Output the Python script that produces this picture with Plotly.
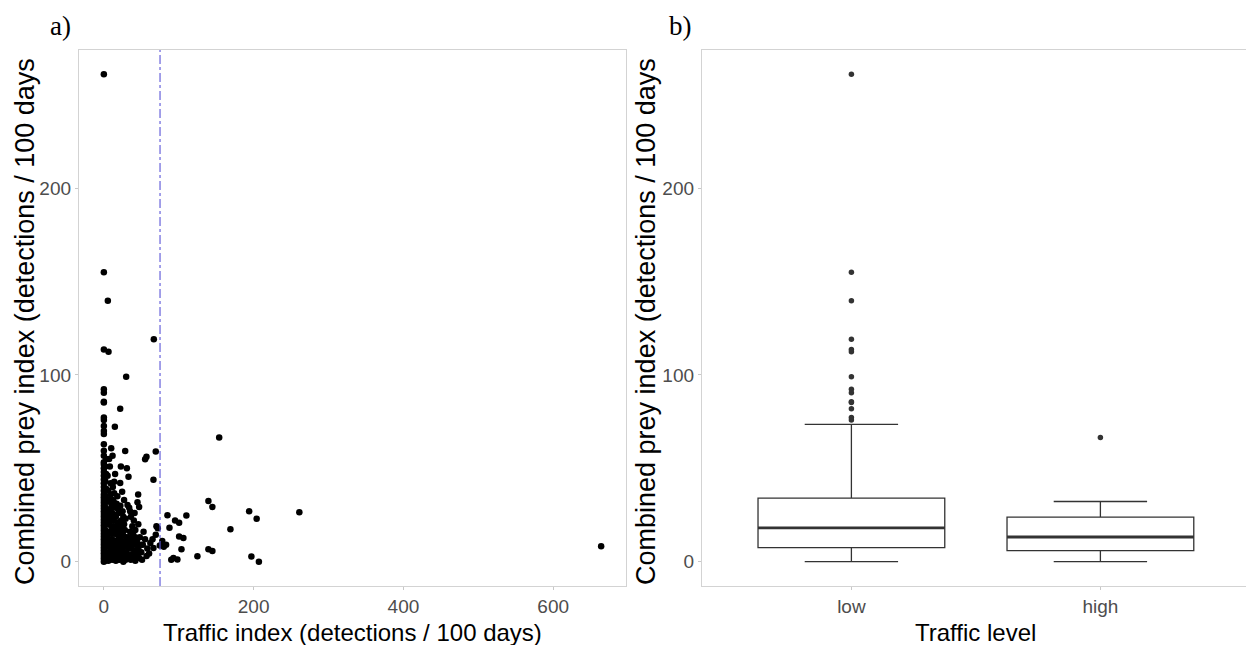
import plotly.graph_objects as go

# ---------------- data: panel a (scatter) ----------------
traffic_index = [
    # column at x ~ 0
    0, 0, 0, 0, 0, 0, 0, 0, 0, 0, 0, 0, 0, 0, 0, 0, 0, 0, 0, 0, 0, 0, 0, 0, 0,
    0, 0, 0, 0, 0, 0, 0, 0, 0, 0, 0, 0, 0, 0, 0, 0, 0, 0, 0, 0, 0, 0, 0, 0,
    # column at x ~ 2-6
    2, 3, 2, 3, 2, 3, 2, 3, 2, 3, 2, 3, 2, 3, 2, 3, 2, 3, 5.3, 6.2,
    # x 5-10
    5, 6, 7, 5, 8, 6, 9, 5, 7, 6, 9, 5, 8, 7, 9.8, 6, 8, 10, 9, 10, 8, 10, 9,
    # x 10-15
    11, 12, 13, 11, 14, 12, 13, 11, 14, 12, 13.8, 13, 13.8, 11.6, 14.7, 15, 12, 15, 14, 15,
    # x 15-20
    16, 17, 18, 16, 19, 17, 18, 16, 19, 17, 18, 20, 20, 19, 20,
    # x 20-25
    21, 22, 23, 21, 24, 22, 23, 21.8, 22.7, 21.8, 24.4, 25, 24, 25, 22,
    # x 25-35
    26, 28, 30, 27, 29, 31, 33, 26, 28, 30, 32, 34, 35, 27, 29, 31.6, 33.8, 35.1, 28.5, 30.7, 32.9, 29.8, 27,
    # x 35-50
    36, 38, 40, 42, 37, 39, 41, 43, 45, 44, 46, 38, 40, 42, 44.9, 47.1, 45.8, 48, 46, 36, 41,
    # x 50-75
    50, 52, 55, 58, 60.4, 62, 66.2, 69.3, 70.2, 72, 74.7, 55.1, 56.9, 66.2, 66.7, 69.3, 53, 57, 65,
    # extra fill of the dense cloud
    4, 6, 9, 12, 14, 16, 18, 20, 23, 25, 27, 29, 31, 33, 35, 37, 39, 42, 44, 47, 49, 51,
    24, 26, 20, 17, 13, 10, 8, 11, 6, 21,
    # high traffic
    84.9, 110.2, 95.1, 100.5, 87.6, 169, 100.5, 106.2, 83.1, 103.6, 92.9, 98.2, 124.9,
    139.6, 144.9, 197, 207, 204, 194, 139.6, 144.9, 261, 154, 664, 78, 80, 90,
]
prey_index = [
    0, 1.5, 3, 4.5, 6, 7.5, 9, 10.5, 12, 13.5, 15, 16.5, 18, 19.5, 21, 22.5, 24, 25.5, 27, 28.5, 30, 31.5, 33, 34.5, 36,
    38, 40, 42, 44, 46, 48, 50, 52, 53.2, 56.7, 59.4, 62.9, 68.3, 70.0, 72.7, 75.9, 77.2, 85.2, 85.7, 90.5, 92.3, 113.6, 155, 261,
    0.5, 2, 5, 8, 11, 14, 17, 20, 23, 26, 29, 32, 35, 39, 43, 47, 51, 55, 139.7, 112.4,
    2, 5, 9, 13, 16, 20, 24, 28, 33, 38, 42, 46, 51, 55, 60.8, 0.5, 3, 7, 11, 19, 27, 31, 36,
    1, 4, 8, 12, 15, 18, 22, 26, 29, 33, 36.6, 32.2, 42.8, 56.7, 72.2, 47, 40, 10, 2, 25,
    0.5, 4, 7, 11, 14, 17, 21, 24, 28, 31, 35, 2, 9, 19, 26,
    1, 5, 8, 12, 15, 18, 22, 42.1, 51.0, 81.9, 37.5, 3, 11, 27, 30,
    0, 2, 5, 8, 10, 4, 7, 14, 17, 13, 11, 3, 9, 20, 23, 30.4, 28.8, 27, 59.2, 50, 45.5, 99, 33,
    1, 4, 2, 0.5, 12, 15, 6, 9, 3, 11, 7, 19, 22, 17, 31.8, 29.2, 35.9, 13, 20, 24, 26,
    5, 9, 12, 7, 4.3, 10, 7.3, 14.4, 19, 17.9, 8.7, 54.9, 56.2, 43.9, 119.1, 59.0, 16, 3, 12,
    1, 3, 6, 9, 6, 3, 1, 5, 2, 7, 4, 1, 9, 13, 16, 7, 10, 13, 5, 2, 9, 1,
    19, 24, 15, 9, 19, 15, 22, 29, 25, 21,
    24.9, 24.7, 22.0, 20.8, 18.1, 17.4, 13.5, 12.6, 9.1, 6.6, 1.9, 1.2, 2.9,
    6.6, 5.7, 2.8, 0, 23, 27, 32.5, 29.3, 26.5, 66.5, 8.2, 11, 8, 1,
]
traffic_threshold = 75

x_ticks_a = [0, 200, 400, 600]
y_ticks = [0, 100, 200]

# ---------------- data: panel b (box plot) ----------------
levels = ["low", "high"]
level_pos = [1, 2]
box_q1 = [7.5, 5.9]
box_median = [18.1, 13.2]
box_q3 = [34.0, 23.8]
box_lower = [0, 0]
box_upper = [73.5, 32.2]
low_outliers = [261, 155, 139.7, 119.1, 113.6, 112.4, 99.0, 92.3, 90.5, 85.7, 85.2, 81.9, 77.2, 75.9]
high_outliers = [66.5]

# ---------------- layout helpers ----------------
W, H = 1246, 645
def fx(p):
    return p / W
def fy(p):
    return 1 - p / H

BOX_W = 0.75
BORDER = "#d3d3d3"
TICKC = "#c8c8c8"
TICKFONT = dict(family="Liberation Sans, Arial, sans-serif", size=19, color="#4d4d4d")
TITLEFONT = dict(family="Liberation Sans, Arial, sans-serif", size=24, color="black")

fig = go.Figure()

# panel a: scatter
fig.add_trace(go.Scatter(
    x=traffic_index, y=prey_index, mode="markers",
    marker=dict(color="black", size=6.5, line=dict(width=0)),
    xaxis="x", yaxis="y", showlegend=False, hoverinfo="skip"))

# panel b: boxes
fig.add_trace(go.Box(
    x=level_pos, q1=box_q1, median=box_median, q3=box_q3,
    lowerfence=box_lower, upperfence=box_upper, width=BOX_W,
    fillcolor="white", line=dict(color="#333333", width=1.3),
    boxpoints=False, xaxis="x2", yaxis="y2", showlegend=False, hoverinfo="skip"))

# thicker median lines
med_x, med_y = [], []
for p, m in zip(level_pos, box_median):
    med_x += [p - BOX_W / 2, p + BOX_W / 2, None]
    med_y += [m, m, None]
fig.add_trace(go.Scatter(
    x=med_x, y=med_y, mode="lines", line=dict(color="#333333", width=2.8),
    xaxis="x2", yaxis="y2", showlegend=False, hoverinfo="skip"))

# outliers
out_x = [level_pos[0]] * len(low_outliers) + [level_pos[1]] * len(high_outliers)
out_y = low_outliers + high_outliers
fig.add_trace(go.Scatter(
    x=out_x, y=out_y, mode="markers",
    marker=dict(color="#333333", size=5.5, line=dict(width=0)),
    xaxis="x2", yaxis="y2", showlegend=False, hoverinfo="skip"))

# threshold line
fig.add_shape(type="line", xref="x", yref="y domain",
              x0=traffic_threshold, x1=traffic_threshold, y0=0, y1=1,
              line=dict(color="#5a55d8", width=1.1, dash="dashdot"))

y_dom = [fy(586), fy(50)]
x_max = max(traffic_index)
y_max = max(max(prey_index), max(low_outliers))
x_range_a = [-0.05 * x_max, 1.05 * x_max]
y_range = [-0.05 * y_max, 1.05 * y_max]

common_axis = dict(showgrid=False, zeroline=False, showline=True, linecolor=BORDER,
                   linewidth=1.3, ticks="outside", ticklen=3, tickcolor=TICKC,
                   tickwidth=1, tickfont=TICKFONT, automargin=False)

fig.update_layout(
    width=W, height=H, margin=dict(l=0, r=0, t=0, b=0),
    paper_bgcolor="white", plot_bgcolor="white",
    xaxis=dict(domain=[fx(79), fx(626)], range=x_range_a, tickvals=x_ticks_a,
               anchor="y", mirror=True, **common_axis),
    yaxis=dict(domain=y_dom, range=y_range, tickvals=y_ticks,
               anchor="x", mirror=True, **common_axis),
    xaxis2=dict(domain=[fx(702), 1.0], range=[0.4, 0.4 + (1246 - 702) / 249.0],
                tickvals=level_pos, ticktext=levels, anchor="y2", mirror=True, **common_axis),
    yaxis2=dict(domain=y_dom, range=y_range, tickvals=y_ticks,
                anchor="x2", mirror=False, **common_axis),
)

annots = [
    dict(text="a)", x=fx(48), y=fy(26), xanchor="left", yanchor="middle",
         font=dict(family="Liberation Serif, Times New Roman, serif", size=27, color="black")),
    dict(text="b)", x=fx(667), y=fy(26), xanchor="left", yanchor="middle",
         font=dict(family="Liberation Serif, Times New Roman, serif", size=27, color="black")),
    dict(text="Traffic index (detections / 100 days)", x=fx(352.5), y=fy(632),
         xanchor="center", yanchor="middle", font=TITLEFONT),
    dict(text="Traffic level", x=fx(975.5), y=fy(632),
         xanchor="center", yanchor="middle", font=TITLEFONT),
    dict(text="Combined prey index (detections / 100 days", x=fx(25), y=fy(322),
         xanchor="center", yanchor="middle", textangle=-90,
         font=dict(family="Liberation Sans, Arial, sans-serif", size=27, color="black")),
    dict(text="Combined prey index (detections / 100 days", x=fx(646), y=fy(322),
         xanchor="center", yanchor="middle", textangle=-90,
         font=dict(family="Liberation Sans, Arial, sans-serif", size=27, color="black")),
]
for a in annots:
    a.update(xref="paper", yref="paper", showarrow=False)
fig.update_layout(annotations=annots)

fig.write_html("out.html")
